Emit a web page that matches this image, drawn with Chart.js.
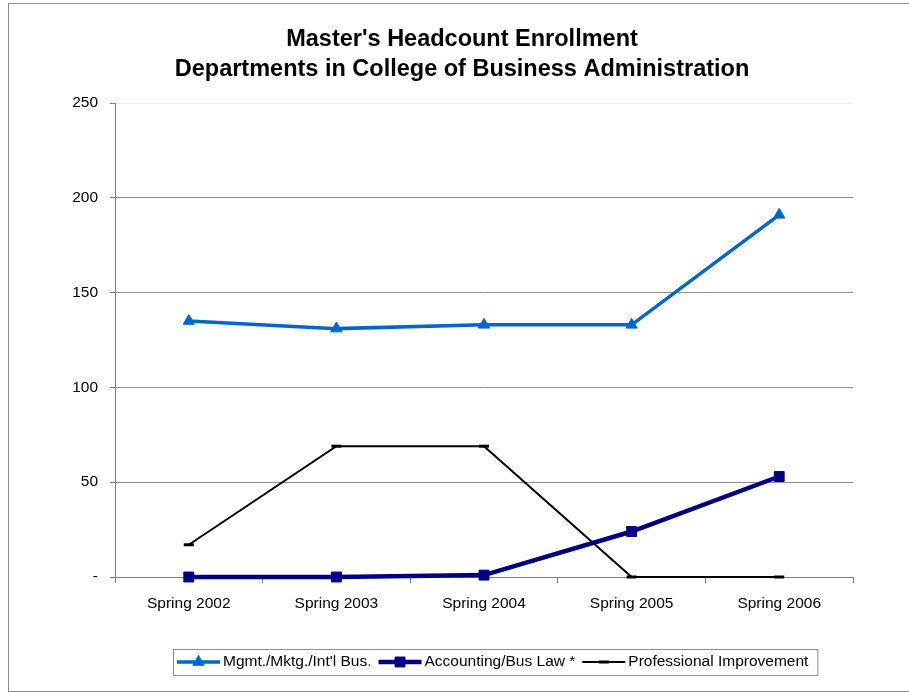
<!DOCTYPE html>
<html>
<head>
<meta charset="utf-8">
<script src="https://cdn.jsdelivr.net/npm/chart.js@4/dist/chart.umd.min.js"></script>
<style>
  body { margin: 0; background: #fff; }
  #wrap { position: relative; width: 909px; height: 692px; overflow: hidden; }
  #frame { position: absolute; left: 8px; top: 3px; width: 920px; height: 687px; border: 1px solid #8c8c8c; }
  canvas { position: absolute; left: 0; top: 0; }
</style>
</head>
<body>
<div id="wrap">
  <div id="frame"></div>
  <canvas id="myChart" width="909" height="692"></canvas>
</div>
<script>
const categories = ["Spring 2002", "Spring 2003", "Spring 2004", "Spring 2005", "Spring 2006"];
const mgmtValues = [135, 131, 133, 133, 191];
const accountingValues = [0, 0, 1, 24, 53];
const profValues = [17, 69, 69, 0, 0];
const seriesNames = ["Mgmt./Mktg./Int'l Bus.", "Accounting/Bus Law *", "Professional Improvement"];
const titleLines = ["Master's Headcount Enrollment", "Departments in College of Business Administration"];

const FONT = "Arial, 'Liberation Sans', sans-serif";

// title + Excel-style legend drawn by hand
const extras = {
  id: "extras",
  afterDraw: function (chart) {
    const ctx = chart.ctx;
    ctx.save();
    ctx.fillStyle = "#000";
    ctx.font = "bold 23.5px " + FONT;
    ctx.textAlign = "center";
    ctx.textBaseline = "middle";
    ctx.fillText(titleLines[0], 462, 40);
    ctx.fillText(titleLines[1], 462, 70);

    // legend
    ctx.font = "15.5px " + FONT;
    ctx.textAlign = "left";
    const boxL = 173, boxT = 649, boxB = 675;
    const midY = (boxT + boxB) / 2;
    let x = boxL + 4;
    chart.data.datasets.forEach(function (ds, i) {
      ctx.strokeStyle = ds.borderColor;
      ctx.lineWidth = ds.borderWidth;
      ctx.beginPath();
      ctx.moveTo(x, midY);
      ctx.lineTo(x + 43, midY);
      ctx.stroke();
      ctx.fillStyle = ds.pointBackgroundColor;
      ctx.strokeStyle = ds.borderColor;
      ctx.lineWidth = ds.pointBorderWidth || 1;
      Chart.helpers.drawPoint(ctx, {
        pointStyle: ds.pointStyle,
        radius: ds.pointRadius,
        borderWidth: ds.pointBorderWidth || 1,
        rotation: 0
      }, x + 21.5, midY);
      ctx.fillStyle = "#000";
      ctx.textBaseline = "middle";
      ctx.fillText(ds.label, x + 46, midY);
      x += 46 + ctx.measureText(ds.label).width + 7;
    });
    ctx.strokeStyle = "#8c8c8c";
    ctx.lineWidth = 1;
    ctx.strokeRect(boxL + 0.5, boxT + 0.5, x - boxL + 2, boxB - boxT);
    ctx.restore();
  }
};

new Chart("myChart", {
  type: "line",
  data: {
    labels: categories,
    datasets: [
      {
        label: seriesNames[0],
        data: mgmtValues,
        borderColor: "#0066CC",
        backgroundColor: "#0066CC",
        pointBackgroundColor: "#0066CC",
        borderWidth: 3.5,
        pointStyle: "triangle",
        pointRadius: 6.5,
        pointBorderWidth: 1,
        clip: false
      },
      {
        label: seriesNames[1],
        data: accountingValues,
        borderColor: "#000080",
        backgroundColor: "#000080",
        pointBackgroundColor: "#000080",
        borderWidth: 4.5,
        pointStyle: "rect",
        pointRadius: 7,
        pointBorderWidth: 1,
        clip: false
      },
      {
        label: seriesNames[2],
        data: profValues,
        borderColor: "#000000",
        backgroundColor: "#000000",
        pointBackgroundColor: "#000000",
        borderWidth: 2,
        pointStyle: "line",
        pointRadius: 5,
        pointBorderWidth: 3,
        clip: false
      }
    ]
  },
  options: {
    responsive: false,
    animation: false,
    layout: { padding: { left: 55, right: 56, top: 103, bottom: 75 } },
    plugins: {
      legend: { display: false },
      title: { display: false },
      tooltip: { enabled: false }
    },
    elements: { line: { tension: 0 } },
    scales: {
      x: {
        offset: true,
        afterFit: function (scale) { scale.height = 40; },
        grid: {
          offset: true,
          drawOnChartArea: false,
          drawTicks: true,
          tickLength: 6,
          tickColor: "#808080"
        },
        border: { color: "#808080", width: 1 },
        ticks: { color: "#000", font: { family: FONT, size: 15.5 }, padding: 11, maxRotation: 0 }
      },
      y: {
        min: 0,
        max: 250,
        afterFit: function (scale) { scale.width = 60; },
        grid: {
          color: function (c) { return c.tick && c.tick.value === 250 ? "#eeeeee" : "#8c8c8c"; },
          tickColor: "#808080",
          tickLength: 5,
          lineWidth: 1
        },
        border: { color: "#808080", width: 1 },
        ticks: {
          stepSize: 50,
          color: "#000",
          padding: 12,
          font: { family: FONT, size: 15.5 },
          callback: function (v) { return v === 0 ? "-" : v; }
        }
      }
    }
  },
  plugins: [extras]
});
</script>
</body>
</html>
